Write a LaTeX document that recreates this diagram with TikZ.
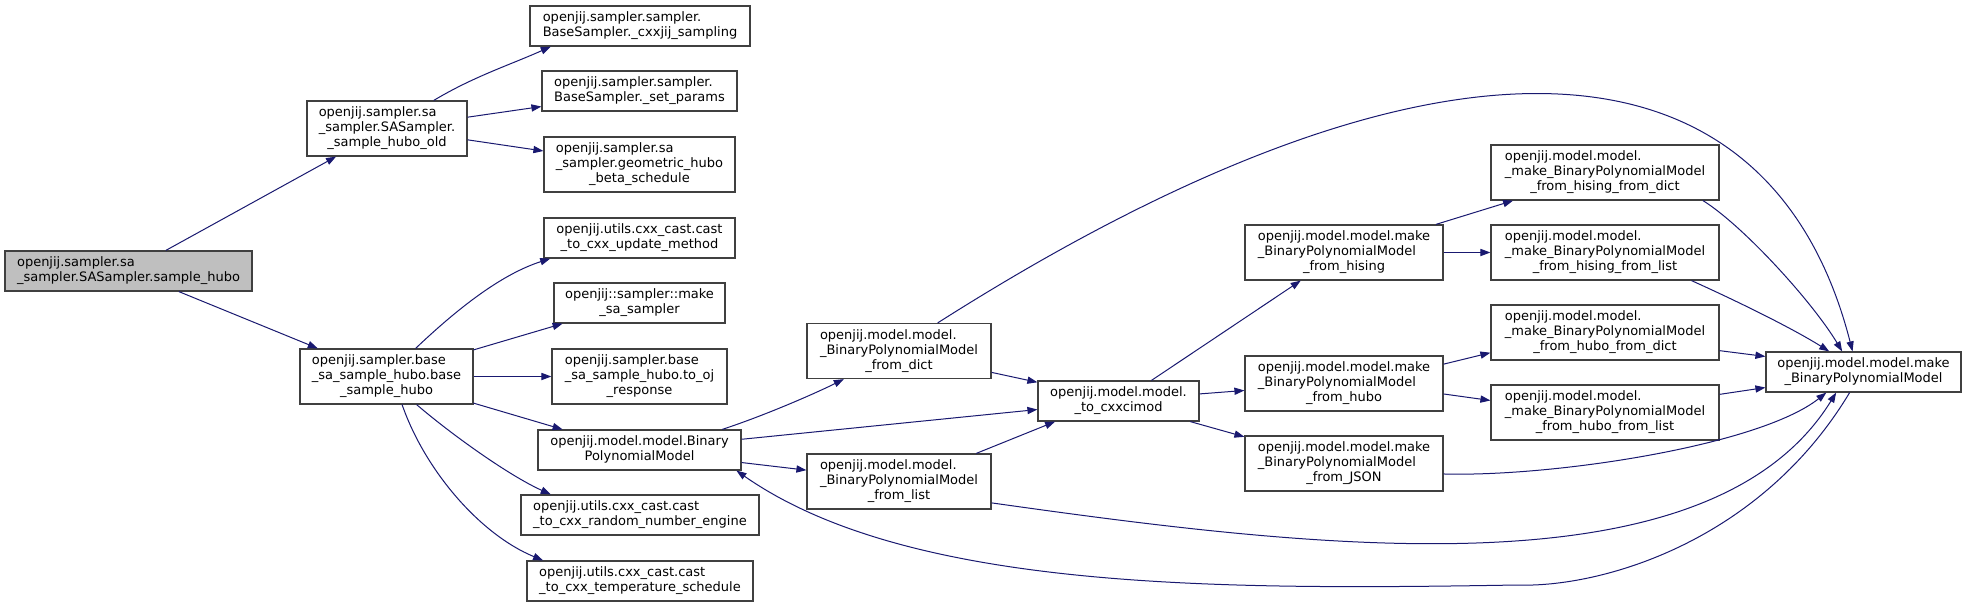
\documentclass[tikz,border=0pt]{standalone}
\usepackage{fontspec}
\setmainfont{DejaVu Sans}
\usetikzlibrary{arrows.meta}
\definecolor{CallBlue}{HTML}{191970}
\definecolor{BoxLine}{HTML}{404040}
\definecolor{RootGrey}{HTML}{BFBFBF}
\newcommand{\lastln}[1]{\multicolumn{1}{@{}c@{}}{#1}}
\newcommand{\fnlabel}[2]{\begin{tabular}{@{}l@{}}#1\\\lastln{#2}\end{tabular}}
\tikzset{
  fnbox/.style={draw=BoxLine,fill=white,line width=.6pt,inner sep=1pt,
    minimum height=20pt,font=\fontsize{6.5}{7.5}\selectfont},
  tall/.style={minimum height=27.5pt},
  call/.style={CallBlue,line width=.5pt,-{Triangle[length=5pt,width=3.6pt]}},
}

\begin{document}
\begin{tikzpicture}[x=.5pt,y=-.5pt]
\path[use as bounding box] (0,0) rectangle (1967,607);
\fill[white] (0,0) rectangle (1967,607);
% sampler side
\node[fnbox,fill=RootGrey,minimum width=123.5pt] (root) at (128.5,271) {\fnlabel{openjij.sampler.sa}{\_sampler.SASampler.sample\_hubo}};
\node[fnbox,tall,minimum width=80pt] (old) at (387,128.5) {\fnlabel{openjij.sampler.sa\\\_sampler.SASampler.}{\_sample\_hubo\_old}};
\node[fnbox,tall,minimum width=86.5pt] (base) at (386.5,376.5) {\fnlabel{openjij.sampler.base\\\_sa\_sample\_hubo.base}{\_sample\_hubo}};
\node[fnbox,minimum width=110pt] (cxxjij) at (640,26) {\fnlabel{openjij.sampler.sampler.}{BaseSampler.\_cxxjij\_sampling}};
\node[fnbox,minimum width=97.5pt] (setp) at (639.5,91) {\fnlabel{openjij.sampler.sampler.}{BaseSampler.\_set\_params}};
\node[fnbox,tall,minimum width=95.5pt] (geom) at (639.5,164.5) {\fnlabel{openjij.sampler.sa\\\_sampler.geometric\_hubo}{\_beta\_schedule}};
\node[fnbox,minimum width=95.5pt] (upd) at (639.5,238) {\fnlabel{openjij.utils.cxx\_cast.cast}{\_to\_cxx\_update\_method}};
\node[fnbox,minimum width=85.5pt] (mksa) at (639.5,303) {\fnlabel{openjij::sampler::make}{\_sa\_sampler}};
\node[fnbox,tall,minimum width=87.5pt] (tooj) at (639.5,376.5) {\fnlabel{openjij.sampler.base\\\_sa\_sample\_hubo.to\_oj}{\_response}};
\node[fnbox,minimum width=101.5pt] (bpm) at (639.5,450) {\fnlabel{openjij.model.model.Binary}{PolynomialModel}};
\node[fnbox,minimum width=119pt] (rng) at (640,515) {\fnlabel{openjij.utils.cxx\_cast.cast}{\_to\_cxx\_random\_number\_engine}};
\node[fnbox,minimum width=113pt] (temp) at (640,581) {\fnlabel{openjij.utils.cxx\_cast.cast}{\_to\_cxx\_temperature\_schedule}};
% model side
\node[fnbox,tall,minimum width=92pt] (fdict) at (899,351) {\fnlabel{openjij.model.model.\\\_BinaryPolynomialModel}{\_from\_dict}};
\node[fnbox,tall,minimum width=92pt] (flist) at (899,481.5) {\fnlabel{openjij.model.model.\\\_BinaryPolynomialModel}{\_from\_list}};
\node[fnbox,minimum width=80.5pt] (cxx) at (1118.5,401) {\fnlabel{openjij.model.model.}{\_to\_cxxcimod}};
\node[fnbox,tall,minimum width=99pt] (hising) at (1344,252.5) {\fnlabel{openjij.model.model.make\\\_BinaryPolynomialModel}{\_from\_hising}};
\node[fnbox,tall,minimum width=99pt] (hubo) at (1344,383.5) {\fnlabel{openjij.model.model.make\\\_BinaryPolynomialModel}{\_from\_hubo}};
\node[fnbox,tall,minimum width=99pt] (json) at (1344,463.5) {\fnlabel{openjij.model.model.make\\\_BinaryPolynomialModel}{\_from\_JSON}};
\node[fnbox,tall,minimum width=114pt] (hsd) at (1605,172.5) {\fnlabel{openjij.model.model.\\\_make\_BinaryPolynomialModel}{\_from\_hising\_from\_dict}};
\node[fnbox,tall,minimum width=114pt] (hsl) at (1605,252.5) {\fnlabel{openjij.model.model.\\\_make\_BinaryPolynomialModel}{\_from\_hising\_from\_list}};
\node[fnbox,tall,minimum width=114pt] (hbd) at (1605,332.5) {\fnlabel{openjij.model.model.\\\_make\_BinaryPolynomialModel}{\_from\_hubo\_from\_dict}};
\node[fnbox,tall,minimum width=114pt] (hbl) at (1605,412.5) {\fnlabel{openjij.model.model.\\\_make\_BinaryPolynomialModel}{\_from\_hubo\_from\_list}};
\node[fnbox,minimum width=97.5pt] (mk) at (1863.5,372) {\fnlabel{openjij.model.model.make}{\_BinaryPolynomialModel}};
% calls
\draw[call] (root) -- (old);
\draw[call] (root) -- (base);
\draw[call] (old.31) .. controls +(40,-24) and +(-40,18) .. (cxxjij.193);
\draw[call] (old.8) -- (setp.189);
\draw[call] (old.352) -- (geom.172);
\draw[call] (base.44) .. controls +(40,-38) and +(-50,16) .. (upd.193);
\draw[call] (base.17) -- (mksa.195);
\draw[call] (base.east) -- (tooj.west);
\draw[call] (base.343) -- (bpm.165);
\draw[call] (base.317) .. controls +(35,30) and +(-42,-19) .. (rng.167);
\draw[call] (base.299) .. controls +(23,66) and +(-63,-26) .. (temp.168);
\draw[call] (bpm.14) .. controls +(40,-13) and +(-30,15) .. (fdict.207);
\draw[call] (bpm.6) -- (cxx.186);
\draw[call] (bpm.353) -- (flist.173);
\draw[call] (fdict.347) -- (cxx.167);
\draw[call] (flist.20) -- (cxx.198);
\draw[call] (fdict.36) .. controls +(500,-318) and +(-84,-328) .. (mk.118);
\draw[call] (flist.347) .. controls +(326,46) and +(-126,204) .. (mk.217);
\draw[call] (cxx.32) -- (hising.213);
\draw[call] (cxx.5) -- (hubo.184);
\draw[call] (cxx.344) -- (json.165);
\draw[call] (hising.17) -- (hsd.197);
\draw[call] (hising.east) -- (hsl.west);
\draw[call] (hubo.11) -- (hbd.190);
\draw[call] (hubo.354) -- (hbl.174);
\draw[call] (hsd.344) .. controls +(40,25) and +(-30,-50) .. (mk.136);
\draw[call] (hsl.342) .. controls +(40,18) and +(-40,-25) .. (mk.149);
\draw[call] (hbd.351) -- (mk.171);
\draw[call] (hbl.9) -- (mk.189);
\draw[call] (json.354) .. controls +(110,3) and +(-67,53) .. (mk.209);
% back to the model class
\coordinate (dip) at (1517,585);
\draw[call] (mk.236) .. controls +(-90,150) and +(83,3) .. (dip) .. controls +(-300,5) and +(172,120) .. (bpm.348);
\end{tikzpicture}
\end{document}
